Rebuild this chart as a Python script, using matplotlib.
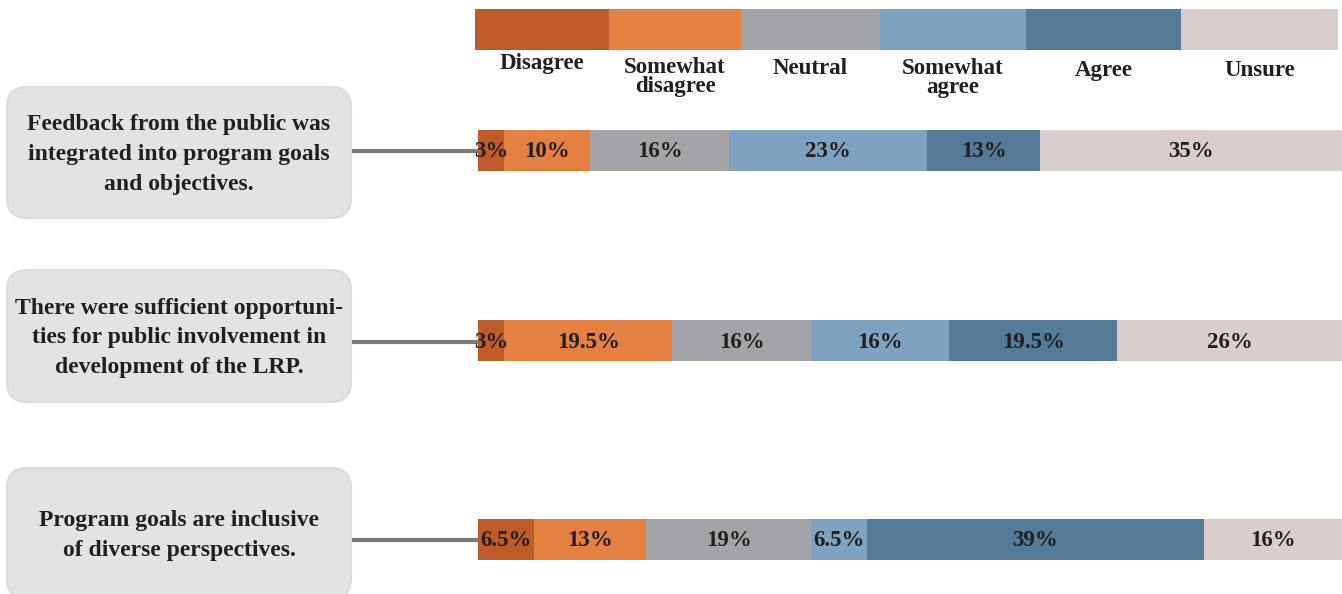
import matplotlib
matplotlib.use('Agg')
import matplotlib.pyplot as plt
from matplotlib.patches import FancyBboxPatch, Rectangle

plt.rcParams['font.family'] = ['Liberation Serif', 'DejaVu Serif']
plt.rcParams['font.weight'] = 'bold'

# survey answers, in percent
categories = ['Disagree', 'Somewhat\ndisagree', 'Neutral', 'Somewhat\nagree', 'Agree', 'Unsure']
colors = ['#BE5B28', '#E38042', '#A3A4A8', '#7FA2C0', '#547A97', '#D8CFCD']
statements = ['Feedback from the public was\nintegrated into program goals\nand objectives.',
              'There were sufficient opportuni-\nties for public involvement in\ndevelopment of the LRP.',
              'Program goals are inclusive\nof diverse perspectives.']
feedback = [3, 10, 16, 23, 13, 35]
opportunities = [3, 19.5, 16, 16, 19.5, 26]
inclusive = [6.5, 13, 19, 6.5, 39, 16]
rows = [feedback, opportunities, inclusive]

W, H = 1342, 594
txt = '#231F20'
fig = plt.figure(figsize=(W / 100, H / 100), dpi=100)

# background axes in pixel units for the key, boxes and leader lines
bg = fig.add_axes([0, 0, 1, 1])
bg.set_xlim(0, W)
bg.set_ylim(H, 0)
bg.axis('off')

# key strip across the top
key_edges = [475, 609, 741, 880, 1026, 1181, 1338]
key_label_top = [53, 57, 58, 58, 60, 60]
for i, (cat, col) in enumerate(zip(categories, colors)):
    x0, x1 = key_edges[i], key_edges[i + 1]
    bg.add_patch(Rectangle((x0, 9), x1 - x0, 41, color=col, lw=0))
    bg.text((x0 + x1) / 2, key_label_top[i], cat, ha='center', va='top', fontsize=16.5,
            color=txt, linespacing=0.88)

# bars
bar_y = [150, 340.5, 539]
bar_h = 41
box_y = [(87, 218), (270, 402), (468, 599)]
box_x = (7, 351)
bar_left = 478

for stmt, (y0, y1), yc in zip(statements, box_y, bar_y):
    bg.add_patch(FancyBboxPatch((box_x[0] + 14, y0 + 14), box_x[1] - box_x[0] - 28, y1 - y0 - 28,
                                boxstyle='round,pad=14,rounding_size=20',
                                fc='#E3E3E3', ec='#DCDCDC', lw=1.5))
    bg.text((box_x[0] + box_x[1]) / 2, (y0 + y1) / 2 + 2, stmt, ha='center', va='center',
            fontsize=17, color=txt, linespacing=1.55)
    bg.plot([box_x[1] + 1, bar_left], [yc + 1, yc + 1], color='#7A7A7A', lw=3,
            solid_capstyle='butt')

ax = fig.add_axes([bar_left / W, 0, (W - bar_left) / W, 1])
ax.set_xlim(0, 100)
ax.set_ylim(H, 0)
ax.axis('off')

for vals, yc in zip(rows, bar_y):
    left = 0
    for v, col in zip(vals, colors):
        ax.barh(yc, v, left=left, height=bar_h, color=col, lw=0)
        ax.text(left + v / 2, yc + 1.5, f'{v:g}%', ha='center', va='center',
                fontsize=16.5, color=txt)
        left += v

fig.savefig('out.png', dpi=100)
